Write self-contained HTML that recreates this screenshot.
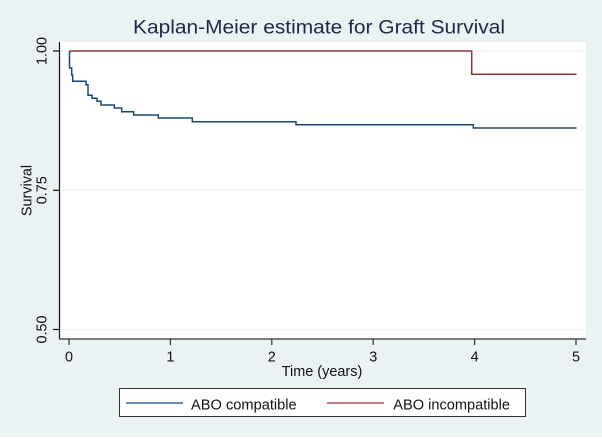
<!DOCTYPE html>
<html><head><meta charset="utf-8"><style>
html,body{margin:0;padding:0;background:#fff;}
svg{display:block;}
text{font-family:"Liberation Sans",Arial,sans-serif;}
</style></head><body>
<svg width="602" height="439" viewBox="0 0 602 439" xmlns="http://www.w3.org/2000/svg">
<rect x="0" y="0" width="602" height="437" fill="#EAF2F3"/>
<rect x="60" y="42" width="526" height="297" fill="#ffffff"/>
<!-- gridlines -->
<line x1="60" y1="51" x2="586" y2="51" stroke="#EAF2F3" stroke-width="1.2"/>
<line x1="60" y1="190.3" x2="586" y2="190.3" stroke="#EAF2F3" stroke-width="1.2"/>
<line x1="60" y1="329.5" x2="586" y2="329.5" stroke="#EAF2F3" stroke-width="1.2"/>
<!-- axes -->
<line x1="59.5" y1="42" x2="59.5" y2="339.5" stroke="#111" stroke-width="1.2"/>
<line x1="59" y1="339" x2="586" y2="339" stroke="#555" stroke-width="1.6"/>
<!-- y ticks -->
<g stroke="#111" stroke-width="1.2">
<line x1="53" y1="51" x2="59.5" y2="51"/>
<line x1="53" y1="190.3" x2="59.5" y2="190.3"/>
<line x1="53" y1="329.5" x2="59.5" y2="329.5"/>
</g>
<!-- x ticks -->
<g stroke="#333" stroke-width="1.2">
<line x1="69" y1="339" x2="69" y2="345"/>
<line x1="170.4" y1="339" x2="170.4" y2="345"/>
<line x1="271.8" y1="339" x2="271.8" y2="345"/>
<line x1="373.2" y1="339" x2="373.2" y2="345"/>
<line x1="474.6" y1="339" x2="474.6" y2="345"/>
<line x1="576" y1="339" x2="576" y2="345"/>
</g>
<!-- y tick labels -->
<g font-size="14.4" fill="#111" text-anchor="middle">
<text transform="translate(46.5,51) rotate(-90)">1.00</text>
<text transform="translate(46.5,190.3) rotate(-90)">0.75</text>
<text transform="translate(46.5,329.5) rotate(-90)">0.50</text>
<text transform="translate(31.5,190.5) rotate(-90)">Survival</text>
</g>
<!-- x tick labels -->
<g font-size="14.4" fill="#111" text-anchor="middle">
<text x="69" y="361.5">0</text>
<text x="170.4" y="361.5">1</text>
<text x="271.8" y="361.5">2</text>
<text x="373.2" y="361.5">3</text>
<text x="474.6" y="361.5">4</text>
<text x="576" y="361.5">5</text>
<text x="322" y="376" textLength="80.6" lengthAdjust="spacingAndGlyphs">Time (years)</text>
</g>
<!-- title -->
<text x="319" y="33.5" font-size="19" fill="#1c2847" text-anchor="middle" textLength="372" lengthAdjust="spacingAndGlyphs">Kaplan-Meier estimate for Graft Survival</text>
<!-- series -->
<path d="M69.5,51 H471.7 V74.3 H576.5" fill="none" stroke="#90353B" stroke-width="1.5"/>
<path d="M69.5,51 V68 H71.7 V75 H72.7 V81.3 H86 V84.7 H88 V95.3 H92 V98.3 H97 V101.3 H101 V105 H114.3 V108 H121.7 V111.7 H133.7 V115 H158.3 V118 H192.3 V121.7 H296 V124.7 H473.3 V128 H576.5" fill="none" stroke="#1A476F" stroke-width="1.5"/>
<!-- legend -->
<rect x="119.5" y="388.5" width="406" height="28" fill="#ffffff" stroke="#333" stroke-width="1"/>
<line x1="126" y1="403" x2="183" y2="403" stroke="#1A476F" stroke-width="1.2"/>
<line x1="327" y1="403" x2="384" y2="403" stroke="#90353B" stroke-width="1.2"/>
<g font-size="14.5" fill="#111">
<text x="191" y="409.5" textLength="105.7" lengthAdjust="spacingAndGlyphs">ABO compatible</text>
<text x="393.3" y="409.5" textLength="116.7" lengthAdjust="spacingAndGlyphs">ABO incompatible</text>
</g>
</svg>
</body></html>
